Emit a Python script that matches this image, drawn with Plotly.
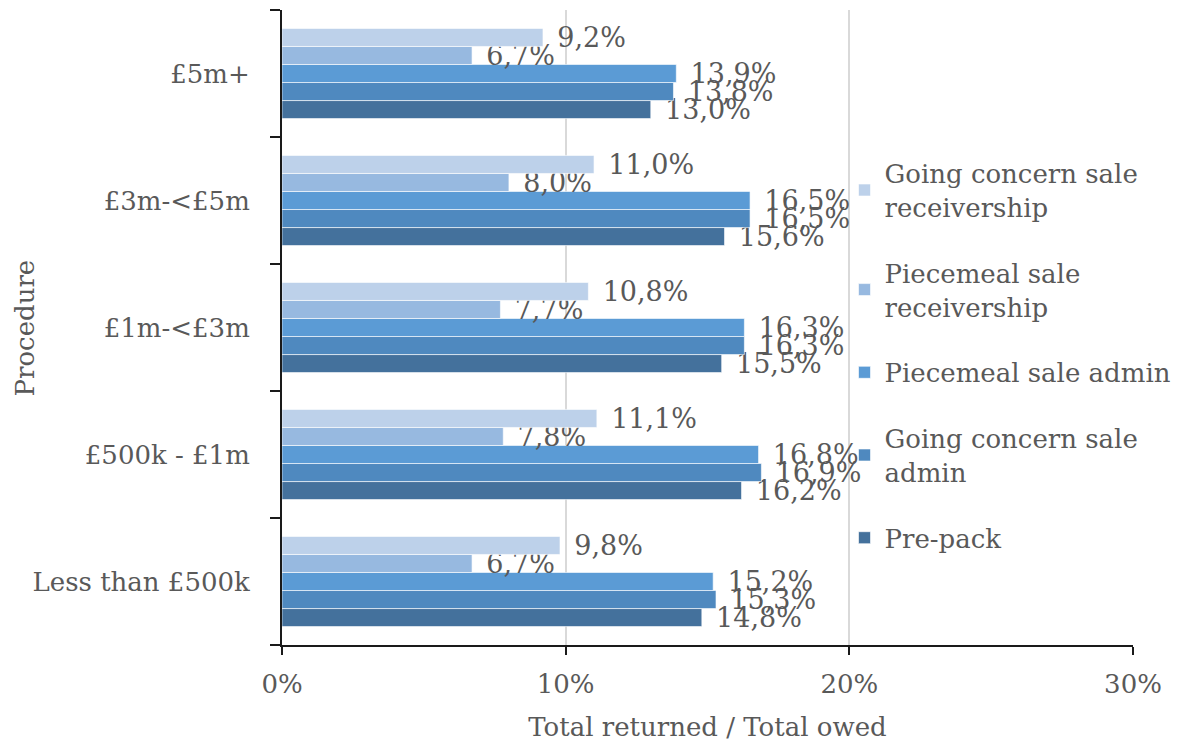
import plotly.graph_objects as go

categories = ["Less than £500k", "£500k - £1m", "£1m-<£3m", "£3m-<£5m", "£5m+"]

series_names = [
    "Pre-pack",
    "Going concern sale<br>admin",
    "Piecemeal sale admin",
    "Piecemeal sale<br>receivership",
    "Going concern sale<br>receivership",
]
pre_pack = [14.8, 16.2, 15.5, 15.6, 13.0]
gc_admin = [15.3, 16.9, 16.3, 16.5, 13.8]
pm_admin = [15.2, 16.8, 16.3, 16.5, 13.9]
pm_receiv = [6.7, 7.8, 7.7, 8.0, 6.7]
gc_receiv = [9.8, 11.1, 10.8, 11.0, 9.2]

colors = ["#44719C", "#4F89BF", "#5B9BD5", "#97B9E0", "#BDD1EA"]
x_ticks = [0, 10, 20, 30]
x_tick_labels = ["0%", "10%", "20%", "30%"]

FONT = "DejaVu Serif"
GREY = "#595959"
FS = 26

all_series = [pre_pack, gc_admin, pm_admin, pm_receiv, gc_receiv]
fig = go.Figure()
for i, (name, vals, col) in enumerate(zip(series_names, all_series, colors)):
    fig.add_trace(go.Bar(
        y=categories, x=vals, name=name, orientation="h",
        legendgroup=f"g{i}", legendrank=100 - i,
        marker=dict(color=col, line=dict(color="rgba(255,255,255,0.6)", width=1)),
        text=["\u00a0\u200a" + f"{v:.1f}".replace(".", ",") + "%" for v in vals],
        textposition="outside", constraintext="none", cliponaxis=False,
        textfont=dict(family=FONT, size=27, color=GREY),
    ))

fig.update_layout(
    width=1185, height=744,
    margin=dict(l=282, r=52, t=10, b=99, autoexpand=False),
    paper_bgcolor="white", plot_bgcolor="white",
    barmode="group", bargap=0.29, bargroupgap=0,
    font=dict(family=FONT, size=FS, color=GREY),
    legend=dict(
        x=0.661, y=0.78, xanchor="left", yanchor="top",
        traceorder="grouped", bgcolor="rgba(0,0,0,0)",
        font=dict(family=FONT, size=FS, color=GREY),
        itemwidth=30, tracegroupgap=29,
    ),
    xaxis=dict(
        range=[0, 30], tickvals=x_ticks, ticktext=x_tick_labels,
        showgrid=True, gridcolor="#D9D9D9", gridwidth=1.5,
        showline=True, linecolor="#1a1a1a", linewidth=2,
        ticks="outside", ticklen=8, tickcolor="#1a1a1a", tickwidth=2,
        zeroline=False, automargin=False,
        ticklabelstandoff=7,
        tickfont=dict(family=FONT, size=FS, color=GREY),
        title=dict(text="Total returned / Total owed", standoff=20,
                   font=dict(family=FONT, size=FS, color=GREY)),
    ),
    yaxis=dict(
        categoryorder="array", categoryarray=categories,
        showline=True, linecolor="#1a1a1a", linewidth=2,
        ticks="outside", ticklen=10, tickcolor="#1a1a1a", tickwidth=2,
        tickson="boundaries", showgrid=False, automargin=False,
        tickfont=dict(family=FONT, size=FS, color=GREY),
        ticklabelstandoff=25,
    ),
    annotations=[dict(
        text="Procedure", textangle=-90, showarrow=False,
        xref="paper", yref="paper", x=-0.302, y=0.5,
        xanchor="center", yanchor="middle",
        font=dict(family=FONT, size=FS, color=GREY),
    )],
)

fig.write_html("out.html")
